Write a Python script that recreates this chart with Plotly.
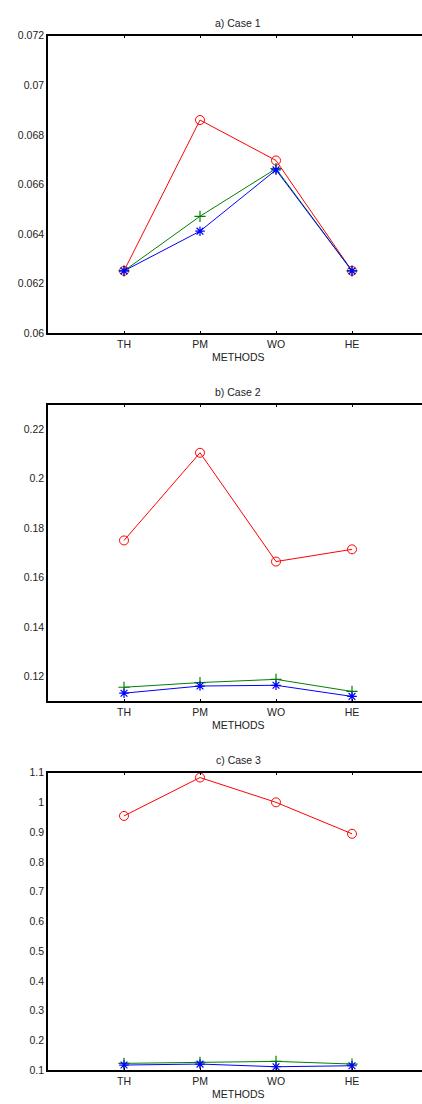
import plotly.graph_objects as go

methods = ["TH", "PM", "WO", "HE"]

case1_red = [0.06252, 0.06860, 0.06697, 0.06252]
case1_green = [0.06252, 0.06472, 0.06664, 0.06252]
case1_blue = [0.06252, 0.06412, 0.06659, 0.06252]

case2_red = [0.17507, 0.21053, 0.16653, 0.17147]
case2_green = [0.1157, 0.1176, 0.1189, 0.1140]
case2_blue = [0.1133, 0.1162, 0.1165, 0.1120]

case3_red = [0.9544, 1.0833, 1.0000, 0.8944]
case3_green = [0.1233, 0.1267, 0.1300, 0.1211]
case3_blue = [0.1177, 0.1210, 0.1120, 0.1153]

titles = ["a) Case 1", "b) Case 2", "c) Case 3"]
yranges = [[0.06, 0.072], [0.11, 0.23], [0.1, 1.1]]
ytickvals = [
    [0.06, 0.062, 0.064, 0.066, 0.068, 0.07, 0.072],
    [0.12, 0.14, 0.16, 0.18, 0.2, 0.22],
    [0.1, 0.2, 0.3, 0.4, 0.5, 0.6, 0.7, 0.8, 0.9, 1.0, 1.1],
]
yticktext = [
    ["0.06", "0.062", "0.064", "0.066", "0.068", "0.07", "0.072"],
    ["0.12", "0.14", "0.16", "0.18", "0.2", "0.22"],
    ["0.1", "0.2", "0.3", "0.4", "0.5", "0.6", "0.7", "0.8", "0.9", "1", "1.1"],
]
data = [
    (case1_red, case1_green, case1_blue),
    (case2_red, case2_green, case2_blue),
    (case3_red, case3_green, case3_blue),
]

W, H = 422, 1104
boxes = [(30, 331), (403, 703), (775, 1076)]
left_px = 48
unit_px = 76.0

fig = go.Figure()
font = dict(family="Liberation Sans, Arial, sans-serif", size=10.5, color="#222222")

for i, ((red, green, blue), (top, bot)) in enumerate(zip(data, boxes)):
    n = i + 1
    xa = "x" if n == 1 else f"x{n}"
    ya = "y" if n == 1 else f"y{n}"
    fig.add_trace(go.Scatter(x=methods, y=red, mode="lines+markers", xaxis=xa, yaxis=ya,
                             line=dict(color="#ff0000", width=1),
                             marker=dict(symbol="circle-open", size=9, color="#ff0000", line=dict(width=1)),
                             showlegend=False))
    fig.add_trace(go.Scatter(x=methods, y=green, mode="lines+markers", xaxis=xa, yaxis=ya,
                             line=dict(color="#008000", width=1),
                             marker=dict(symbol="cross-thin-open", size=8, color="#008000", line=dict(width=1.2, color="#008000")),
                             showlegend=False))
    fig.add_trace(go.Scatter(x=methods, y=blue, mode="lines+markers", xaxis=xa, yaxis=ya,
                             line=dict(color="#0000ff", width=1),
                             marker=dict(symbol="asterisk-open", size=8, color="#0000ff", line=dict(width=1.2, color="#0000ff")),
                             showlegend=False))
    ydom = [(H - bot) / H, (H - top) / H]
    right_units = (W - left_px) / unit_px - 1
    xkey = "xaxis" if n == 1 else f"xaxis{n}"
    ykey = "yaxis" if n == 1 else f"yaxis{n}"
    fig.layout[xkey] = dict(domain=[left_px / W, 1], anchor=ya, type="category",
                            categoryorder="array", categoryarray=methods,
                            range=[-1, right_units], showgrid=False, zeroline=False,
                            showline=True, linecolor="black", linewidth=1.6, mirror="ticks",
                            ticks="inside", ticklen=3, tickcolor="black", tickwidth=1,
                            tickfont=font, fixedrange=True)
    fig.layout[ykey] = dict(domain=ydom, anchor=xa, range=yranges[i], showgrid=False,
                            zeroline=False, showline=True, linecolor="black", linewidth=1.6,
                            mirror=False, ticks="", tickvals=ytickvals[i], ticktext=yticktext[i],
                            tickfont=font, fixedrange=True)
    center_x = (left_px + 190) / W
    fig.add_annotation(text=titles[i], xref="paper", yref="paper", x=center_x,
                       y=(H - (top - 13)) / H, showarrow=False, font=font,
                       xanchor="center", yanchor="middle")
    fig.add_annotation(text="METHODS", xref="paper", yref="paper", x=center_x,
                       y=(H - (bot + 24)) / H, showarrow=False, font=font,
                       xanchor="center", yanchor="middle")

fig.update_layout(width=W, height=H, margin=dict(l=0, r=0, t=0, b=0),
                  paper_bgcolor="white", plot_bgcolor="white")
fig.write_html("out.html", config={"displayModeBar": False},
               post_script="document.body.style.margin='0';document.body.style.overflow='hidden';document.documentElement.style.overflow='hidden';")
